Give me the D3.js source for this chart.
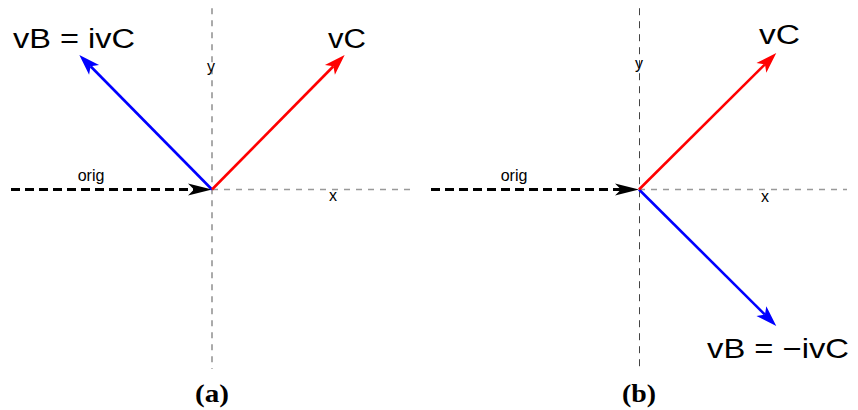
<!DOCTYPE html>
<html>
<head>
<meta charset="utf-8">
<script src="https://cdn.jsdelivr.net/npm/d3@7"></script>
<style>
  html, body { margin: 0; padding: 0; background: #fff; }
  svg { display: block; }
</style>
</head>
<body>
<svg id="chart" width="858" height="410"></svg>
<script>
// ---- data ----
const panelIds = ["(a)", "(b)"];
const origVector = [[-1, 0], [0, 0]];           // dashed black input arrow (same in both panels)
const vCVector = [[0.66, 0.75], [0.66, 0.76]];  // red vector tip per panel
const vBVector = [[-0.66, 0.75], [0.66, -0.76]];// blue vector tip per panel
const vBLabels = ["vB = ivC", "vB = \u2212ivC"];
const vCLabel = "vC";
const axisLabels = ["x", "y"];
const origLabel = "orig";

// ---- layout (pixels) ----
const W = 858, H = 410;
const layout = [
  { xr: [11, 413], yr: [369, 10], vertStroke: "#8f8f8f", vertW: 1.5, vertDash: "6,6", vx: 0,
    vB: { x: 13, y: 48, len: 122, size: 27 }, vC: { x: 328, y: 48, len: 38, size: 27 },
    orig: { x: 91, y: 181 }, ylab: { x: 211, y: 72 }, xlab: { x: 333, y: 201 } },
  { xr: [431, 847], yr: [369, 10], vertStroke: "#444", vertW: 1, vertDash: "7,6", vx: 0.5,
    vB: { x: 707, y: 358, len: 142, size: 28 }, vC: { x: 759, y: 44, len: 41, size: 27 },
    orig: { x: 514, y: 181 }, ylab: { x: 639, y: 69 }, xlab: { x: 765, y: 202 } }
];

const svg = d3.select("#chart");

function arrowHead(g, x1, y1, x2, y2, L, hw, notch, color) {
  const dx = x2 - x1, dy = y2 - y1, d = Math.hypot(dx, dy);
  const ux = dx / d, uy = dy / d, px = -uy, py = ux;
  const bx = x2 - ux * L, by = y2 - uy * L;
  const pts = [
    [x2, y2],
    [bx + px * hw, by + py * hw],
    [x2 - ux * (L - notch), y2 - uy * (L - notch)],
    [bx - px * hw, by - py * hw]
  ];
  g.append("path").attr("d", d3.line()(pts) + "Z").attr("fill", color);
  return [x2 - ux * (L - notch), y2 - uy * (L - notch)];
}

panelIds.forEach((pid, i) => {
  const L = layout[i];
  const x = d3.scaleLinear().domain([-1, 1]).range(L.xr);
  const y = d3.scaleLinear().domain([-1, 1]).range(L.yr);
  const g = svg.append("g");

  // axes (dashed)
  g.append("line")
    .attr("x1", x(0) + L.vx).attr("x2", x(0) + L.vx).attr("y1", y(1.01)).attr("y2", y(-1))
    .attr("stroke", L.vertStroke).attr("stroke-width", L.vertW).attr("stroke-dasharray", L.vertDash);
  g.append("line")
    .attr("x1", x(0)).attr("x2", x(1)).attr("y1", y(0)).attr("y2", y(0))
    .attr("stroke", "#999").attr("stroke-width", 1.3).attr("stroke-dasharray", "6,6");

  // orig arrow (dashed black)
  const ox1 = x(origVector[0][0]), oy1 = y(origVector[0][1]);
  const ox2 = x(origVector[1][0]), oy2 = y(origVector[1][1]);
  const oEnd = arrowHead(g, ox1, oy1, ox2, oy2, 24, 6, 6, "#000");
  g.append("line")
    .attr("x1", ox1).attr("y1", oy1).attr("x2", oEnd[0] + 1).attr("y2", oEnd[1])
    .attr("stroke", "#000").attr("stroke-width", 3).attr("stroke-dasharray", "9,5");

  // vectors
  [[vBVector[i], "#0000ff"], [vCVector[i], "#ff0000"]].forEach(([v, c]) => {
    const x1 = x(0), y1 = y(0), x2 = x(v[0]), y2 = y(v[1]);
    const end = arrowHead(g, x1, y1, x2, y2, 21, 7, 5, c);
    g.append("line")
      .attr("x1", x1).attr("y1", y1).attr("x2", end[0]).attr("y2", end[1])
      .attr("stroke", c).attr("stroke-width", 2.6);
  });

  // small labels
  const small = (t, p) => g.append("text").text(t)
    .attr("x", p.x).attr("y", p.y).attr("text-anchor", "middle")
    .attr("font-family", "Liberation Sans, Arial, sans-serif").attr("font-size", 16).attr("fill", "#000");
  small(origLabel, L.orig);
  small(axisLabels[1], L.ylab);
  small(axisLabels[0], L.xlab);

  // big labels
  const big = (t, p) => g.append("text").text(t)
    .attr("x", p.x).attr("y", p.y)
    .attr("font-family", "Liberation Sans, Arial, sans-serif").attr("font-size", p.size).attr("fill", "#000")
    .attr("textLength", p.len).attr("lengthAdjust", "spacingAndGlyphs");
  big(vBLabels[i], L.vB);
  big(vCLabel, L.vC);

  // panel label
  g.append("text").text(pid)
    .attr("x", x(0) - 17).attr("y", 402)
    .attr("font-family", "Liberation Serif, Times New Roman, serif").attr("font-weight", "bold")
    .attr("font-size", 26).attr("fill", "#000")
    .attr("textLength", 34).attr("lengthAdjust", "spacingAndGlyphs");
});
</script>
</body>
</html>
